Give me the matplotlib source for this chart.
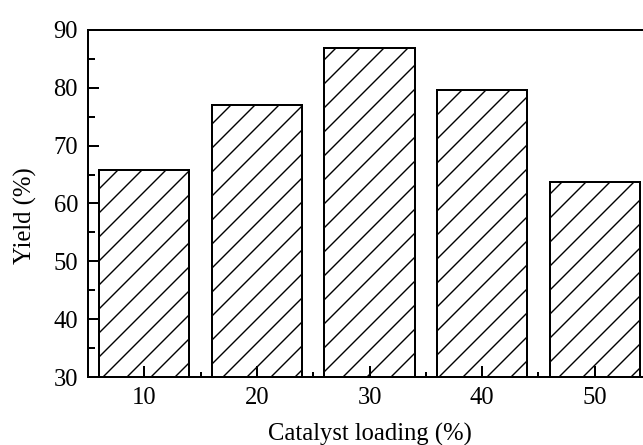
import numpy as np
from matplotlib import pyplot as plt
from matplotlib.ticker import MultipleLocator

plt.rcParams["font.family"] = "serif"
plt.rcParams["font.serif"] = ["Liberation Serif", "DejaVu Serif"]
plt.rcParams["font.size"] = 12.3
plt.rcParams["hatch.linewidth"] = 0.7

# catalyst loading (%) and yield (%)
loading = [10, 20, 30, 40, 50]
yield_pct = [65.8, 77.1, 86.9, 79.6, 63.7]

DPI = 144
fig = plt.figure(figsize=(643 / DPI, 445 / DPI), dpi=DPI)
# right spine lies just past the figure edge, as in the source image
ax = fig.add_axes([0.1369, 0.1528, 0.8756, 0.7798])

ax.bar(loading, np.array(yield_pct) - 30, bottom=30, width=8,
       color='white', edgecolor='black', linewidth=1.0, hatch='//')

ax.set_xlim(5, 55)
ax.set_ylim(30, 90)
ax.xaxis.set_major_locator(MultipleLocator(10))
ax.xaxis.set_minor_locator(MultipleLocator(5))
ax.yaxis.set_major_locator(MultipleLocator(10))
ax.yaxis.set_minor_locator(MultipleLocator(5))
ax.tick_params(which='both', direction='in', top=False, right=False, width=1.0)
ax.tick_params(axis='both', which='major', length=5.5, pad=5)
ax.tick_params(axis='y', which='minor', length=3.5)
ax.tick_params(axis='x', which='minor', length=2.5)
for s in ax.spines.values():
    s.set_linewidth(1.0)

ax.set_xlabel('Catalyst loading (%)', labelpad=7)
ax.set_ylabel('Yield (%)')
ax.yaxis.set_label_coords(-0.09, 0.465)

fig.savefig('out.png', dpi=DPI)
